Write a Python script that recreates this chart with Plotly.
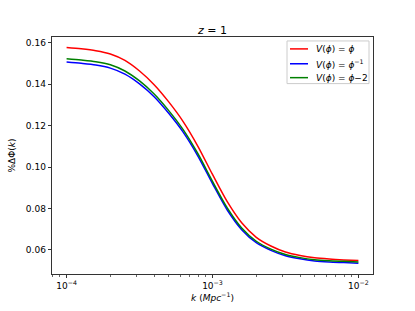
import plotly.graph_objects as go

log_k = [-4.0, -3.9, -3.8, -3.7, -3.6, -3.5, -3.4, -3.3, -3.2, -3.1, -3.0,
         -2.9, -2.8, -2.7, -2.6, -2.5, -2.4, -2.3, -2.2, -2.1, -2.0]
k_vals = [10 ** v for v in log_k]

red_vals = [0.1576, 0.1570, 0.1561, 0.1545, 0.1514, 0.1463, 0.1397, 0.1314,
            0.1218, 0.1100, 0.0964, 0.0834, 0.0731, 0.0661, 0.0619, 0.0590,
            0.0573, 0.0562, 0.0556, 0.0552, 0.0549]
blue_vals = [0.1506, 0.1500, 0.1492, 0.1477, 0.1448, 0.1401, 0.1339, 0.1259,
             0.1167, 0.1053, 0.0920, 0.0794, 0.0698, 0.0635, 0.0598, 0.0572,
             0.0557, 0.0547, 0.0542, 0.0539, 0.0536]
green_vals = [0.1522, 0.1516, 0.1508, 0.1493, 0.1463, 0.1415, 0.1352, 0.1272,
              0.1179, 0.1064, 0.0931, 0.0804, 0.0706, 0.0642, 0.0604, 0.0578,
              0.0563, 0.0553, 0.0548, 0.0545, 0.0542]

series_names = ["<i>V</i>(<i>ϕ</i>) = <i>ϕ</i>",
                "<i>V</i>(<i>ϕ</i>) = <i>ϕ</i><sup>−1</sup>",
                "<i>V</i>(<i>ϕ</i>) = <i>ϕ</i>−2"]
series_colors = ["#ff0000", "#0000ff", "#008000"]

x_tick_vals = [1e-4, 1e-3, 1e-2]
x_tick_text = ["10<sup>−4</sup>", "10<sup>−3</sup>", "10<sup>−2</sup>"]
y_tick_vals = [0.06, 0.08, 0.10, 0.12, 0.14, 0.16]

W, H = 415, 311
L, R, T, B = 52, 42, 37, 35
PW, PH = W - L - R, H - T - B


def px(x):
    return (x - L) / PW


def py(y):
    return (H - B - y) / PH


fig = go.Figure()
for name, vals, col in zip(series_names, [red_vals, blue_vals, green_vals], series_colors):
    fig.add_trace(go.Scatter(x=k_vals, y=vals, mode="lines", name=name,
                             showlegend=False, hoverinfo="skip",
                             line=dict(color=col, width=1.5, shape="spline",
                                       smoothing=0.8)))

# manual legend (matplotlib-like compact layout)
shapes = [dict(type="rect", xref="paper", yref="paper",
               x0=px(287), x1=px(369), y0=py(84), y1=py(41),
               line=dict(color="#cccccc", width=1), fillcolor="rgba(255,255,255,0.8)",
               layer="above")]
annotations = []
row_y = [49, 64, 78]
for name, col, ry in zip(series_names, series_colors, row_y):
    shapes.append(dict(type="line", xref="paper", yref="paper",
                       x0=px(290), x1=px(308), y0=py(ry), y1=py(ry),
                       line=dict(color=col, width=1.5), layer="above"))
    annotations.append(dict(text=name, xref="paper", yref="paper",
                            x=px(314), y=py(ry), xanchor="left", yanchor="middle",
                            showarrow=False, font=dict(size=9)))

minor_vals = [m * 10 ** e for e in (-5, -4, -3, -2) for m in range(2, 10)]

fig.update_layout(
    width=W, height=H,
    margin=dict(l=L, r=R, t=T, b=B),
    paper_bgcolor="white", plot_bgcolor="white",
    font=dict(family="DejaVu Sans", size=9, color="black"),
    title=dict(text="<i>z</i> = 1", x=0.5, xref="paper", xanchor="center",
               yref="paper", y=1, yanchor="bottom", pad=dict(b=3),
               font=dict(size=11)),
    showlegend=False,
    hovermode=False,
    shapes=shapes,
    annotations=annotations,
)
fig.update_xaxes(type="log", range=[-4.1, -1.9],
                 tickvals=x_tick_vals, ticktext=x_tick_text,
                 ticks="outside", ticklen=3.5, tickwidth=0.8, tickcolor="black",
                 showline=True, linecolor="black", linewidth=0.8, mirror=True,
                 showgrid=False, zeroline=False,
                 minor=dict(tickvals=minor_vals, ticks="outside", ticklen=2,
                            tickwidth=0.6, tickcolor="black", showgrid=False),
                 title=dict(text="<i>k</i> (<i>Mpc</i><sup>−1</sup>)",
                            font=dict(size=9), standoff=2))
fig.update_yaxes(range=[0.0484, 0.1627], tickvals=y_tick_vals, tickformat=".2f",
                 ticks="outside", ticklen=3.5, tickwidth=0.8, tickcolor="black",
                 showline=True, linecolor="black", linewidth=0.8, mirror=True,
                 showgrid=False, zeroline=False,
                 title=dict(text="%ΔΦ(<i>k</i>)", font=dict(size=9), standoff=8))

fig.write_html("out.html", config={"displayModeBar": False, "staticPlot": True},
               post_script="document.body.style.margin='0';document.body.style.padding='0';")
